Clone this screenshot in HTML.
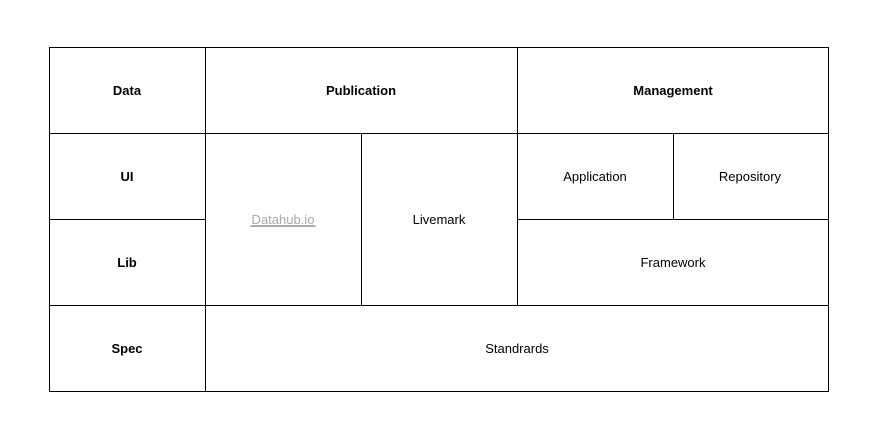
<!DOCTYPE html>
<html><head><style>
html,body{margin:0;padding:0;background:#fff;width:886px;height:435px;overflow:hidden}
</style></head><body>
<svg width="886" height="435" xmlns="http://www.w3.org/2000/svg" style="display:block">
<g stroke="#000" stroke-width="1" fill="none" shape-rendering="crispEdges">
<rect x="49.5" y="47.5" width="779" height="344"/>
<line x1="49" y1="133.5" x2="828" y2="133.5"/>
<line x1="49" y1="219.5" x2="205" y2="219.5"/>
<line x1="517" y1="219.5" x2="828" y2="219.5"/>
<line x1="49" y1="305.5" x2="828" y2="305.5"/>
<line x1="205.5" y1="47" x2="205.5" y2="391"/>
<line x1="361.5" y1="133" x2="361.5" y2="305"/>
<line x1="517.5" y1="47" x2="517.5" y2="305"/>
<line x1="673.5" y1="133" x2="673.5" y2="219"/>
</g>
<g font-family="Liberation Sans, Arial, sans-serif" font-size="13" text-anchor="middle" fill="#000">
<text x="127" y="95" font-weight="bold">Data</text>
<text x="361" y="95" font-weight="bold">Publication</text>
<text x="673" y="95" font-weight="bold">Management</text>
<text x="127" y="181" font-weight="bold">UI</text>
<text x="127" y="267" font-weight="bold">Lib</text>
<text x="127" y="353" font-weight="bold">Spec</text>
<text x="283" y="224" fill="#aaa" text-decoration="underline">Datahub.io</text>
<line x1="250" y1="226.5" x2="316" y2="226.5" stroke="#aaa"/>
<text x="439" y="224">Livemark</text>
<text x="595" y="181">Application</text>
<text x="750" y="181">Repository</text>
<text x="673" y="267">Framework</text>
<text x="517" y="353">Standrards</text>
</g>
</svg>
</body></html>
